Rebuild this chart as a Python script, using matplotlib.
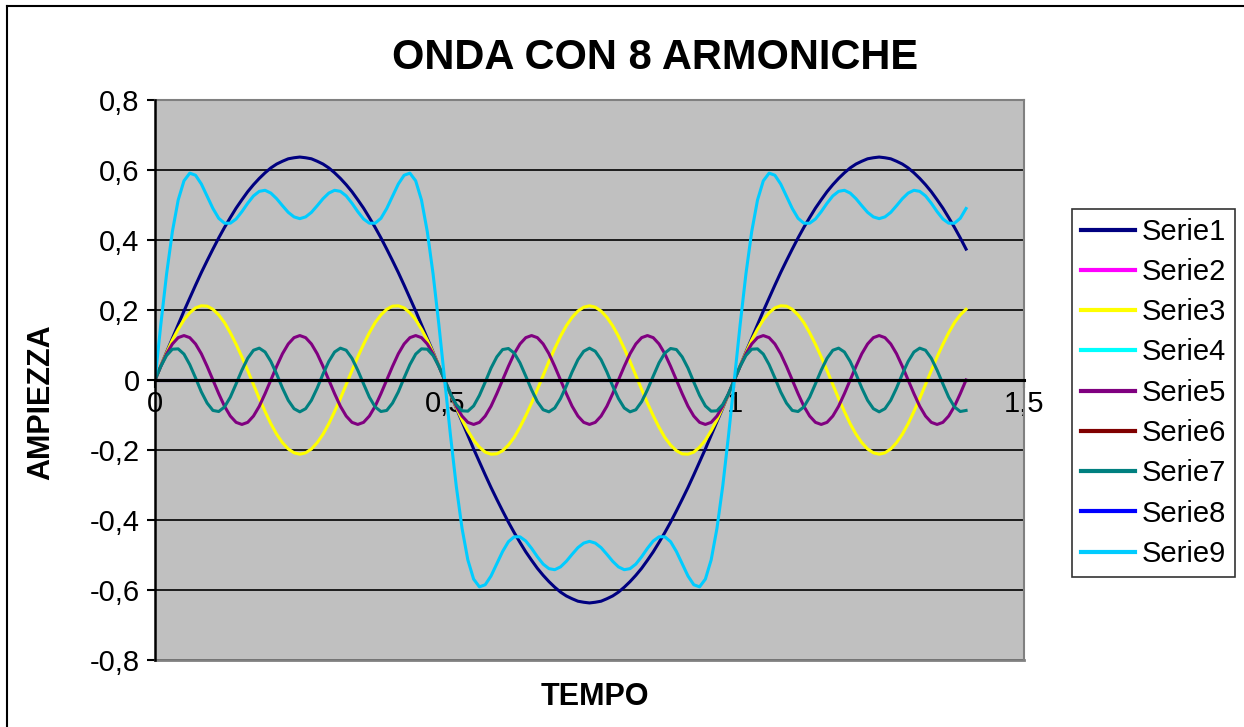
import numpy as np
import matplotlib
matplotlib.use('Agg')
import matplotlib.pyplot as plt
from matplotlib.ticker import FuncFormatter, MultipleLocator
from matplotlib.lines import Line2D

plt.rcParams['font.family'] = ['Liberation Sans', 'DejaVu Sans']

# sample times (step 0.01 from 0 to 1.40)
tempo = np.round(np.arange(0, 141) * 0.01, 2)

# fundamental
serie1 = [0, .040, .080, .119, .158, .197, .234, .271, .307, .341, .374, .406, .436, .464, .491, .515, .538, .558, .576, .592, .606, .617, .625, .632, .635, .637,
          .635, .632, .625, .617, .606, .592, .576, .558, .538, .515, .491, .464, .436, .406, .374, .341, .307, .271, .234, .197, .158, .119, .080, .040, 0,
          -.040, -.080, -.119, -.158, -.197, -.234, -.271, -.307, -.341, -.374, -.406, -.436, -.464, -.491, -.515, -.538, -.558, -.576, -.592, -.606, -.617, -.625, -.632, -.635, -.637,
          -.635, -.632, -.625, -.617, -.606, -.592, -.576, -.558, -.538, -.515, -.491, -.464, -.436, -.406, -.374, -.341, -.307, -.271, -.234, -.197, -.158, -.119, -.080, -.040, 0,
          .040, .080, .119, .158, .197, .234, .271, .307, .341, .374, .406, .436, .464, .491, .515, .538, .558, .576, .592, .606, .617, .625, .632, .635, .637,
          .635, .632, .625, .617, .606, .592, .576, .558, .538, .515, .491, .464, .436, .406, .374]

# 3rd harmonic
serie3 = [0, .040, .078, .114, .145, .172, .192, .206, .212, .211, .202, .186, .164, .135, .102, .066, .027, -.013, -.053, -.090, -.125, -.155, -.179, -.197, -.208, -.212,
          -.208, -.197, -.179, -.155, -.125, -.090, -.053, -.013, .027, .066, .102, .135, .164, .186, .202, .211, .212, .206, .192, .172, .145, .114, .078, .040, 0,
          -.040, -.078, -.114, -.145, -.172, -.192, -.206, -.212, -.211, -.202, -.186, -.164, -.135, -.102, -.066, -.027, .013, .053, .090, .125, .155, .179, .197, .208, .212,
          .208, .197, .179, .155, .125, .090, .053, .013, -.027, -.066, -.102, -.135, -.164, -.186, -.202, -.211, -.212, -.206, -.192, -.172, -.145, -.114, -.078, -.040, 0,
          .040, .078, .114, .145, .172, .192, .206, .212, .211, .202, .186, .164, .135, .102, .066, .027, -.013, -.053, -.090, -.125, -.155, -.179, -.197, -.208, -.212,
          -.208, -.197, -.179, -.155, -.125, -.090, -.053, -.013, .027, .066, .102, .135, .164, .186, .202]

# 5th harmonic
serie5 = [0, .039, .075, .103, .121, .127, .121, .103, .075, .039, 0, -.039, -.075, -.103, -.121, -.127, -.121, -.103, -.075, -.039, 0, .039, .075, .103, .121, .127,
          .121, .103, .075, .039, 0, -.039, -.075, -.103, -.121, -.127, -.121, -.103, -.075, -.039, 0, .039, .075, .103, .121, .127, .121, .103, .075, .039, 0,
          -.039, -.075, -.103, -.121, -.127, -.121, -.103, -.075, -.039, 0, .039, .075, .103, .121, .127, .121, .103, .075, .039, 0, -.039, -.075, -.103, -.121, -.127,
          -.121, -.103, -.075, -.039, 0, .039, .075, .103, .121, .127, .121, .103, .075, .039, 0, -.039, -.075, -.103, -.121, -.127, -.121, -.103, -.075, -.039, 0,
          .039, .075, .103, .121, .127, .121, .103, .075, .039, 0, -.039, -.075, -.103, -.121, -.127, -.121, -.103, -.075, -.039, 0, .039, .075, .103, .121, .127,
          .121, .103, .075, .039, 0, -.039, -.075, -.103, -.121, -.127, -.121, -.103, -.075, -.039, 0]

# 7th harmonic
serie7 = [0, .039, .070, .088, .089, .074, .044, .006, -.034, -.066, -.087, -.090, -.077, -.049, -.011, .028, .062, .085, .091, .080, .053, .017, -.023, -.058, -.082, -.091,
          -.082, -.058, -.023, .017, .053, .080, .091, .085, .062, .028, -.011, -.049, -.077, -.090, -.087, -.066, -.034, .006, .044, .074, .089, .088, .070, .039, 0,
          -.039, -.070, -.088, -.089, -.074, -.044, -.006, .034, .066, .087, .090, .077, .049, .011, -.028, -.062, -.085, -.091, -.080, -.053, -.017, .023, .058, .082, .091,
          .082, .058, .023, -.017, -.053, -.080, -.091, -.085, -.062, -.028, .011, .049, .077, .090, .087, .066, .034, -.006, -.044, -.074, -.089, -.088, -.070, -.039, 0,
          .039, .070, .088, .089, .074, .044, .006, -.034, -.066, -.087, -.090, -.077, -.049, -.011, .028, .062, .085, .091, .080, .053, .017, -.023, -.058, -.082, -.091,
          -.082, -.058, -.023, .017, .053, .080, .091, .085, .062, .028, -.011, -.049, -.077, -.090, -.087]

# sum of the harmonics
serie9 = [0, .158, .303, .424, .514, .569, .591, .585, .560, .525, .490, .462, .448, .448, .460, .481, .505, .526, .539, .542, .534, .518, .498, .479, .466, .461,
          .466, .479, .498, .518, .534, .542, .539, .526, .505, .481, .460, .448, .448, .462, .490, .525, .560, .585, .591, .569, .514, .424, .303, .158, 0,
          -.158, -.303, -.424, -.514, -.569, -.591, -.585, -.560, -.525, -.490, -.462, -.448, -.448, -.460, -.481, -.505, -.526, -.539, -.542, -.534, -.518, -.498, -.479, -.466, -.461,
          -.466, -.479, -.498, -.518, -.534, -.542, -.539, -.526, -.505, -.481, -.460, -.448, -.448, -.462, -.490, -.525, -.560, -.585, -.591, -.569, -.514, -.424, -.303, -.158, 0,
          .158, .303, .424, .514, .569, .591, .585, .560, .525, .490, .462, .448, .448, .460, .481, .505, .526, .539, .542, .534, .518, .498, .479, .466, .461,
          .466, .479, .498, .518, .534, .542, .539, .526, .505, .481, .460, .448, .448, .462, .490]

# even harmonics are all zero
serie2 = [0.0] * 141
serie4 = [0.0] * 141
serie6 = [0.0] * 141
serie8 = [0.0] * 141

nomi = ['Serie1', 'Serie2', 'Serie3', 'Serie4', 'Serie5', 'Serie6', 'Serie7', 'Serie8', 'Serie9']
colori = ['#000080', '#FF00FF', '#FFFF00', '#00FFFF', '#800080', '#800000', '#008080', '#0000FF', '#00CCFF']
serie = [serie1, serie2, serie3, serie4, serie5, serie6, serie7, serie8, serie9]

W, H = 1244, 727
fig = plt.figure(figsize=(W / 100, H / 100), dpi=100)
fig.patch.set_facecolor('white')

# outer chart border (top and left only, the rest is cropped)
fig.add_artist(Line2D([7 / W, 7 / W], [0, 1 - 6 / H], color='black', lw=1.5))
fig.add_artist(Line2D([7 / W, 1], [1 - 6 / H, 1 - 6 / H], color='black', lw=1.5))

ax = fig.add_axes([155 / W, 1 - 660 / H, (1024 - 155) / W, (660 - 100) / H])
ax.set_facecolor('#C0C0C0')

for nome, col, s in zip(nomi, colori, serie):
    ax.plot(tempo, s, color=col, lw=2.2, label=nome, zorder=3)

ax.set_xlim(0, 1.5)
ax.set_ylim(-0.8, 0.8)
ax.xaxis.set_major_locator(MultipleLocator(0.5))
ax.yaxis.set_major_locator(MultipleLocator(0.2))

fmt = FuncFormatter(lambda v, p: ('%g' % round(v, 2)).replace('.', ','))
ax.xaxis.set_major_formatter(fmt)
ax.yaxis.set_major_formatter(fmt)

ax.grid(axis='y', color='black', lw=1.2, zorder=1)
ax.set_axisbelow(True)

# plot area frame
for sp in ['top', 'right']:
    ax.spines[sp].set_color('#808080')
    ax.spines[sp].set_linewidth(1.5)
ax.spines['left'].set_color('black')
ax.spines['left'].set_linewidth(1.8)
ax.spines['left'].set_zorder(5)
ax.spines['bottom'].set_position(('data', 0))
ax.spines['bottom'].set_color('black')
ax.spines['bottom'].set_linewidth(2.2)
ax.spines['bottom'].set_zorder(4)
ax.axhline(-0.8, color='#808080', lw=2, zorder=4, clip_on=False)

ax.tick_params(axis='both', direction='out', length=6, width=1.5, labelsize=21, color='black')
ax.tick_params(axis='x', pad=1)
ax.tick_params(axis='y', pad=5)

fig.text(655 / W, 1 - 58 / H, 'ONDA CON 8 ARMONICHE', ha='center', va='center',
         fontsize=30, fontweight='bold')
fig.text(41 / W, 1 - 402 / H, 'AMPIEZZA', ha='center', va='center', rotation=90,
         fontsize=22, fontweight='bold')
fig.text(595 / W, 1 - 697 / H, 'TEMPO', ha='center', va='center',
         fontsize=22, fontweight='bold')

leg = fig.legend(loc='upper left', bbox_to_anchor=(1072 / W, 1 - 209 / H), fontsize=21,
                 frameon=True, fancybox=False, shadow=False, borderaxespad=0,
                 handlelength=1.85, handletextpad=0.25, labelspacing=0.42, borderpad=0.3)
leg.get_frame().set_edgecolor('black')
leg.get_frame().set_linewidth(1.2)
for ln in leg.get_lines():
    ln.set_linewidth(3)

fig.savefig('out.png', dpi=100)
